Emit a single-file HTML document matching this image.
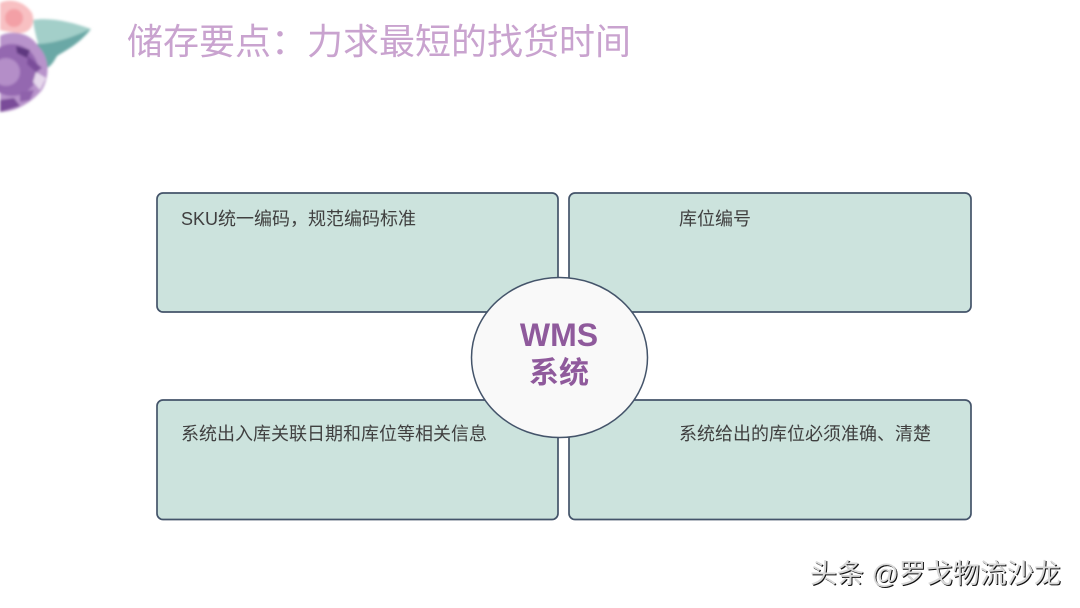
<!DOCTYPE html>
<html lang="zh">
<head>
<meta charset="utf-8">
<style>
html,body{margin:0;padding:0;background:#fff}
#p{position:relative;width:1080px;height:608px;overflow:hidden;background:#fff;font-family:"Liberation Sans","Noto Sans CJK SC",sans-serif}
.t{position:absolute;white-space:nowrap;line-height:1}
</style>
</head>
<body>
<div id="p">
<svg style="position:absolute;left:0;top:0" width="110" height="120" viewBox="0 0 110 120">
<defs><filter id="s"><feGaussianBlur stdDeviation="1.2"/></filter></defs>
<g filter="url(#s)">
<path d="M33 20 C50 17 72 22 91 29 C84 40 72 44 60 49 C56 58 54 64 47 68 C41 54 35 36 33 20Z" fill="#a3cfc9"/>
<path d="M36 44 C52 44 72 38 90 29 C80 44 66 50 57 56 C53 62 51 66 47 68 C45 60 41 50 36 44Z" fill="#6aa8a6"/>
<path d="M0 3 C10 -2 24 1 32 13 C36 24 30 34 18 33 C10 32 4 31 0 30Z" fill="#f8c0c2"/>
<circle cx="14" cy="18" r="9" fill="#f3a0a6"/>
<path d="M0 36 C10 30 30 32 38 46 C50 58 50 76 42 90 C32 102 16 112 0 112Z" fill="#b893cb"/>
<circle cx="12" cy="70" r="26" fill="#9468b0"/>
<circle cx="6" cy="72" r="14" fill="#b48ec8"/>
<path d="M16 46 L30 50 L27 58 L17 53Z" fill="#5f3880"/>
<path d="M28 56 L42 68 L36 72 L27 64Z" fill="#7a4e9a"/>
<path d="M36 72 L46 78 L40 90 L33 82Z" fill="#e6d8ec"/>
<path d="M0 100 L14 98 L20 106 L0 112Z" fill="#7a4b99"/>
<path d="M20 92 L34 90 L30 100 L20 102Z" fill="#8f62ab"/>
</g>
</svg>

<div class="t" style="left:127px;top:24px;font-size:36px;color:#c9a3cf">储存要点&#xFF1A;力求最短的找货时间</div>

<svg style="position:absolute;left:0;top:0" width="1080" height="608">
<g fill="#cce3dd" stroke="#44546a" stroke-width="1.7">
<rect x="157" y="193" width="401" height="119" rx="6"/>
<rect x="569" y="193" width="402" height="119" rx="6"/>
<rect x="157" y="400" width="401" height="119.5" rx="6"/>
<rect x="569" y="400" width="402" height="119.5" rx="6"/>
</g>
<ellipse cx="559.5" cy="357.5" rx="88" ry="80" fill="#f9f9f9" stroke="#44546a" stroke-width="1.5"/>
</svg>

<div class="t" style="left:181px;top:210px;font-size:18px;color:#404040">SKU统一编码&#xFF0C;规范编码标准</div>
<div class="t" style="left:679px;top:210px;font-size:18px;color:#404040">库位编号</div>
<div class="t" style="left:181px;top:425px;font-size:18px;color:#404040">系统出入库关联日期和库位等相关信息</div>
<div class="t" style="left:679px;top:425px;font-size:18px;color:#404040">系统给出的库位必须准确、清楚</div>

<div class="t" style="left:471px;width:176px;text-align:center;top:319px;font-size:32px;font-weight:bold;color:#8f5a9c">WMS</div>
<div class="t" style="left:471px;width:176px;text-align:center;top:359px;font-size:30px;font-weight:bold;color:#8f5a9c">系统</div>

<div class="t" style="left:810px;top:561px;font-size:27px;color:#d8d8d8;text-shadow:1px 1px 0 #111">头条 @罗戈物流沙龙</div>
</div>
</body>
</html>
